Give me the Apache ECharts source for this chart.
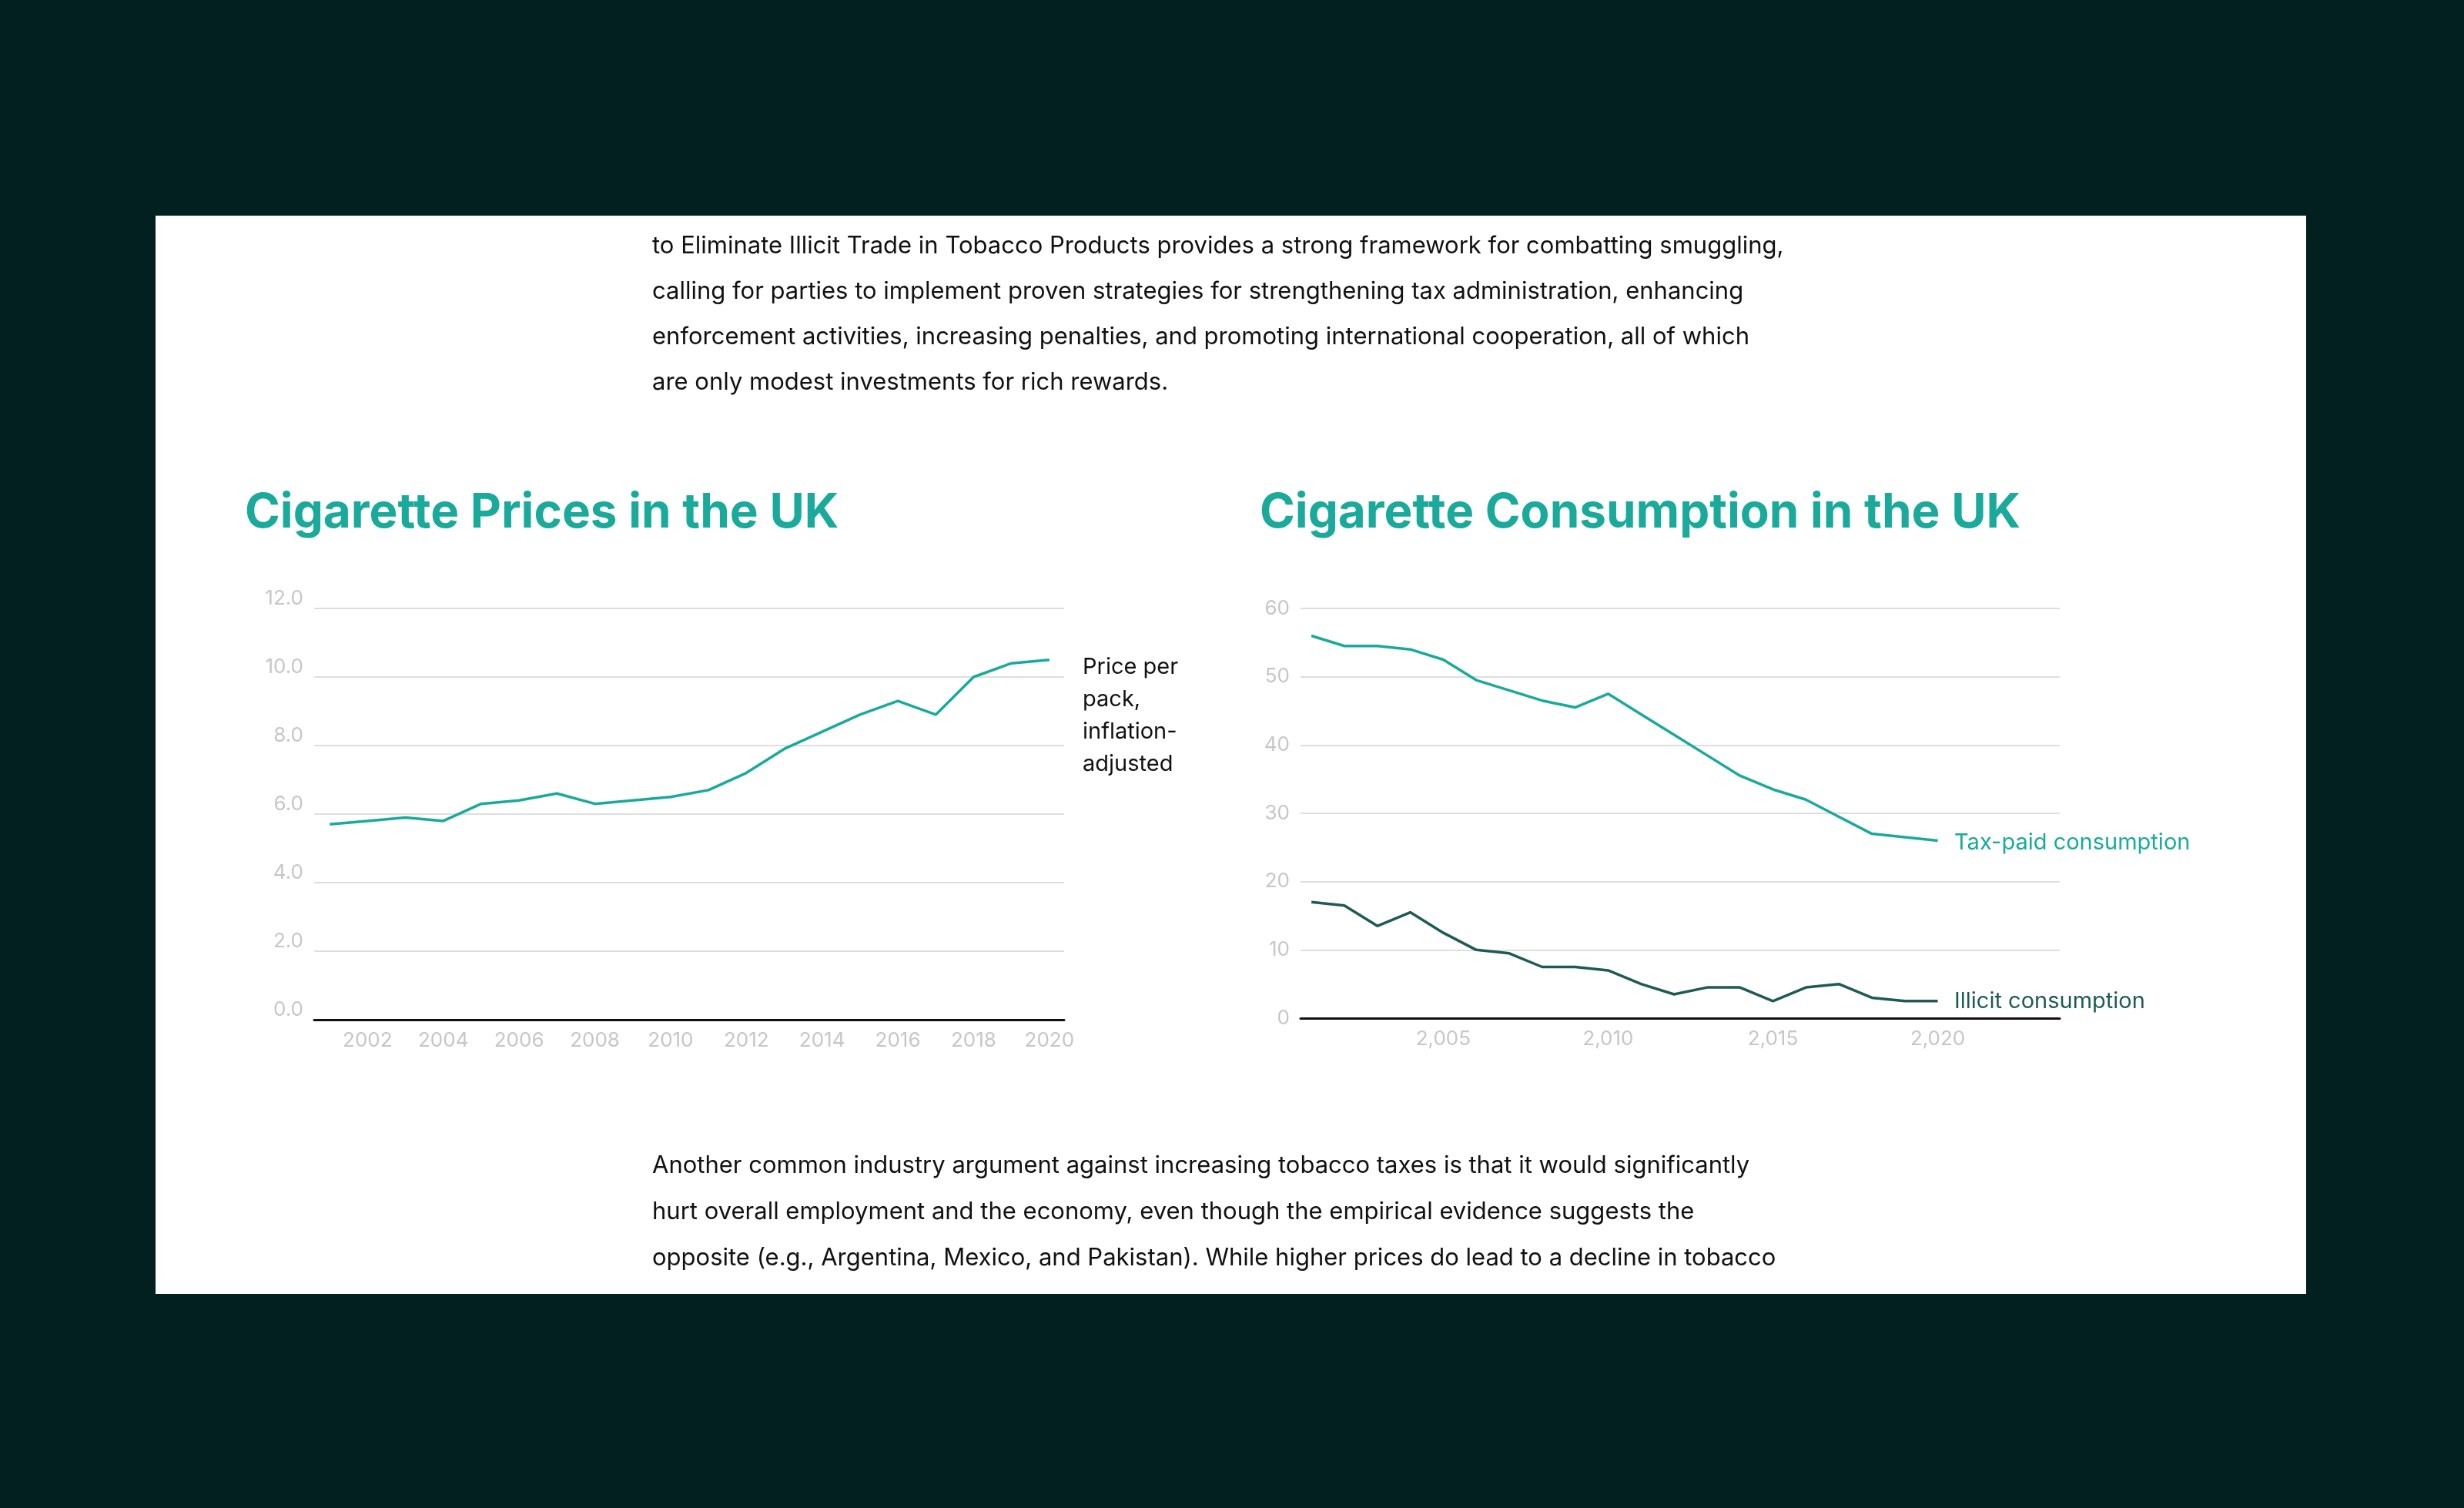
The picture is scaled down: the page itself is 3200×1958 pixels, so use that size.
<!DOCTYPE html>
<html><head><meta charset="utf-8">
<script src="https://cdn.jsdelivr.net/npm/echarts@6/dist/echarts.min.js"></script>
<style>html,body{margin:0;padding:0;background:#01201f}#c{width:3200px;height:1958px}</style>
</head><body><div id="c"></div>
<script>
const years = [2001,2002,2003,2004,2005,2006,2007,2008,2009,2010,2011,2012,2013,2014,2015,2016,2017,2018,2019,2020];
const price = [5.7,5.8,5.9,5.8,6.3,6.4,6.6,6.3,6.4,6.5,6.7,7.2,7.9,8.4,8.9,9.3,8.9,10.0,10.4,10.5];
const taxPaid = [56,54.5,54.5,54,52.5,49.5,48,46.5,45.5,47.5,44.5,41.5,38.5,35.5,33.5,32,29.5,27,26.5,26];
const illicit = [17,16.5,13.5,15.5,12.5,10,9.5,7.5,7.5,7,5,3.5,4.5,4.5,2.5,4.5,5,3,2.5,2.5];
const priceTicks = [2002,2004,2006,2008,2010,2012,2014,2016,2018,2020];
const consTicks = [2005,2010,2015,2020];
const para1 = ["to Eliminate Illicit Trade in Tobacco Products provides a strong framework for combatting smuggling,",
"calling for parties to implement proven strategies for strengthening tax administration, enhancing",
"enforcement activities, increasing penalties, and promoting international cooperation, all of which",
"are only modest investments for rich rewards."];
const para2 = ["Another common industry argument against increasing tobacco taxes is that it would significantly",
"hurt overall employment and the economy, even though the empirical evidence suggests the",
"opposite (e.g., Argentina, Mexico, and Pakistan). While higher prices do lead to a decline in tobacco"];
const priceNote = ["Price per","pack,","inflation-","adjusted"];

const F = "Inter, Lato, 'Noto Sans', sans-serif";
const teal = "#19aa9b", dark = "#1e5b55", grey = "#c6c6c6";
const chart = echarts.init(document.getElementById('c'));
const g = [];
g.push({type:'rect',shape:{x:202,y:280,width:2793,height:1400},style:{fill:'#fff'},z:-10});
para1.forEach((t,i)=>g.push({type:'text',x:847,y:320+i*59,style:{text:t,font:`31px ${F}`,fill:'#111',verticalAlign:'middle'}}));
para2.forEach((t,i)=>g.push({type:'text',x:847,y:1514+i*60,style:{text:t,font:`31px ${F}`,fill:'#111',verticalAlign:'middle'}}));
priceNote.forEach((t,i)=>g.push({type:'text',x:1406,y:866+i*42,style:{text:t,font:`29px ${F}`,fill:'#111',verticalAlign:'middle'}}));
g.push({type:'text',x:318,y:666,style:{text:'Cigarette Prices in the UK',font:`bold 62px ${F}`,fill:teal,verticalAlign:'middle'}});
g.push({type:'text',x:1636,y:666,style:{text:'Cigarette Consumption in the UK',font:`bold 62px ${F}`,fill:teal,verticalAlign:'middle'}});
g.push({type:'text',x:2538,y:1094,style:{text:'Tax-paid consumption',font:`29px ${F}`,fill:teal,verticalAlign:'middle'}});
g.push({type:'text',x:2538,y:1300,style:{text:'Illicit consumption',font:`29px ${F}`,fill:dark,verticalAlign:'middle'}});

const splitL = {show:true,lineStyle:{color:'#dedede',width:2}};
chart.setOption({
  animation:false,
  graphic:g,
  grid:[{left:408,top:790,width:974,height:534},{left:1689,top:790,width:986,height:532}],
  xAxis:[
    {type:'value',gridIndex:0,min:2000.59,max:2020.39,splitLine:{show:false},
     axisLine:{show:true,onZero:false,lineStyle:{color:'#111',width:3}},axisTick:{show:false},
     axisLabel:{customValues:priceTicks,margin:14,color:grey,fontSize:26,fontFamily:F,
       formatter:v=>v===2002?'{a|2002}':String(v),rich:{a:{color:grey,fontSize:26,fontFamily:F,padding:[0,0,30,0]}}}},
    {type:'value',gridIndex:1,min:2000.67,max:2023.7,splitLine:{show:false},
     axisLine:{show:true,onZero:false,lineStyle:{color:'#111',width:3}},axisTick:{show:false},
     axisLabel:{customValues:consTicks,margin:14,color:grey,fontSize:26,fontFamily:F}}
  ],
  yAxis:[
    {type:'value',gridIndex:0,min:0,max:12,interval:2,axisLine:{show:false},axisTick:{show:false},splitLine:splitL,
     axisLabel:{margin:14,color:grey,fontSize:26,fontFamily:F,verticalAlign:'bottom',formatter:v=>v.toFixed(1)}},
    {type:'value',gridIndex:1,min:0,max:60,interval:10,axisLine:{show:false},axisTick:{show:false},splitLine:splitL,
     axisLabel:{margin:14,color:grey,fontSize:26,fontFamily:F}}
  ],
  series:[
    {type:'line',xAxisIndex:0,yAxisIndex:0,data:years.map((y,i)=>[y,price[i]]),symbol:'none',lineStyle:{color:teal,width:3.5}},
    {type:'line',xAxisIndex:1,yAxisIndex:1,data:years.map((y,i)=>[y,taxPaid[i]]),symbol:'none',lineStyle:{color:teal,width:3.5}},
    {type:'line',xAxisIndex:1,yAxisIndex:1,data:years.map((y,i)=>[y,illicit[i]]),symbol:'none',lineStyle:{color:dark,width:3.5}}
  ]
});
</script></body></html>
